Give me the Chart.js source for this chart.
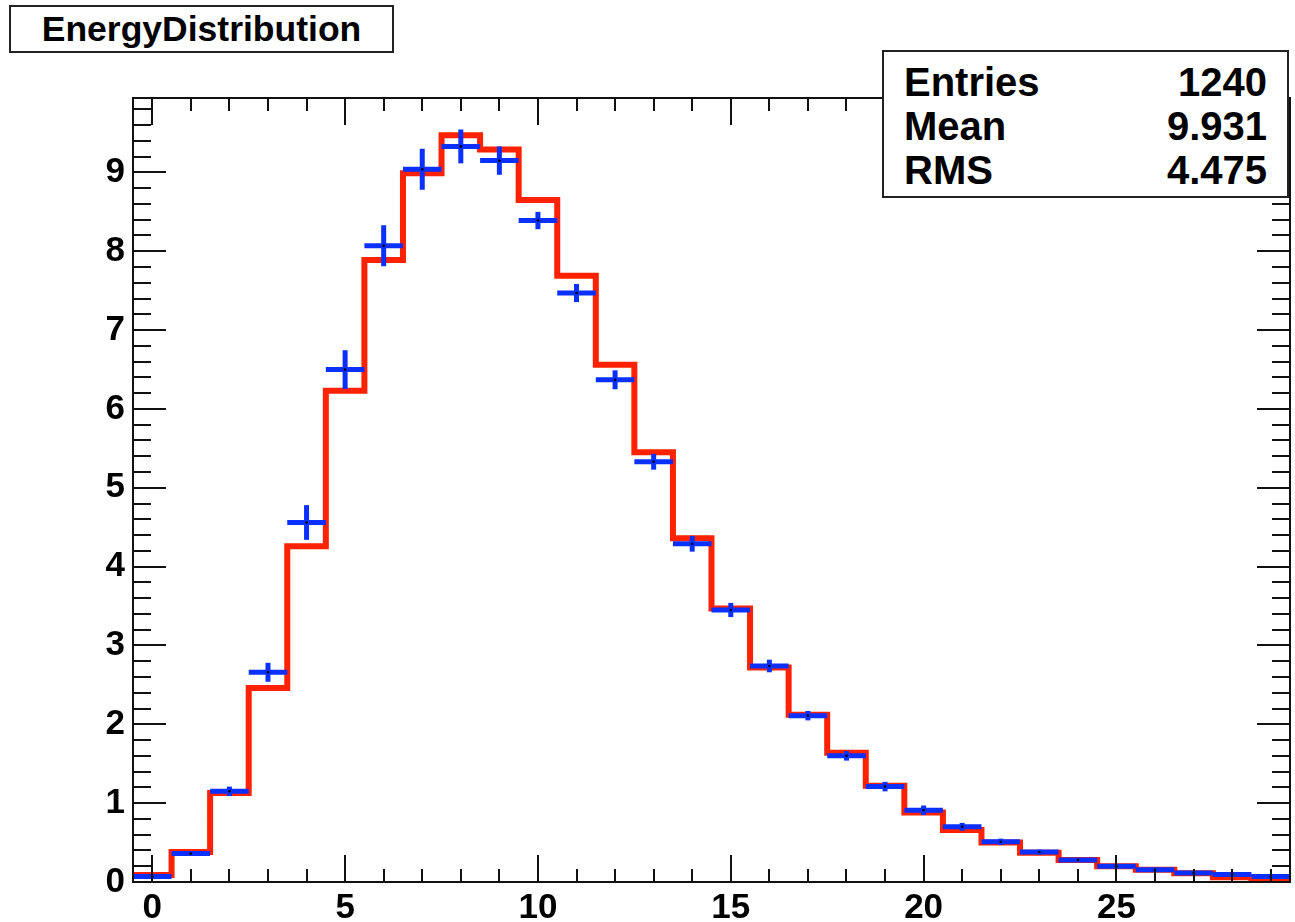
<!DOCTYPE html>
<html>
<head>
<meta charset="utf-8">
<script src="https://cdn.jsdelivr.net/npm/chart.js@4.4.1/dist/chart.umd.min.js"></script>
<style>
  html, body { margin: 0; padding: 0; background: #fff; }
  #wrap { position: relative; width: 1295px; height: 922px; overflow: hidden; }
  canvas { position: absolute; left: 0; top: 0; }
  .box { position: absolute; background: #fff; border: 2px solid #222; box-sizing: border-box;
         font-family: "Liberation Sans", Arial, Helvetica, sans-serif; font-weight: bold; color: #000; }
  #title { left: 9px; top: 5px; width: 385px; height: 48px; font-size: 35.5px; line-height: 44px; text-align: center; }
  #stats { left: 882px; top: 50px; width: 407px; height: 148px; font-size: 40px; }
  #stats .row { position: absolute; left: 20px; right: 20px; height: 44px; line-height: 44px; }
  #stats .row span.v { position: absolute; right: 0; }
</style>
</head>
<body>
<div id="wrap">
  <canvas id="c" width="1295" height="922"></canvas>
  <div class="box" id="title">EnergyDistribution</div>
  <div class="box" id="stats"></div>
</div>
<script>
// ---- data ----
const bins = [0,1,2,3,4,5,6,7,8,9,10,11,12,13,14,15,16,17,18,19,20,21,22,23,24,25,26,27,28,29];
const modelValues = [0.09,0.38,1.13,2.46,4.26,6.23,7.89,8.99,9.47,9.29,8.65,7.69,6.56,5.45,4.36,3.47,2.72,2.12,1.64,1.22,0.88,0.66,0.50,0.37,0.28,0.20,0.155,0.11,0.06,0.03];
const dataValues  = [0.07,0.36,1.15,2.66,4.56,6.50,8.07,9.04,9.33,9.15,8.39,7.47,6.37,5.33,4.29,3.45,2.74,2.11,1.60,1.21,0.91,0.70,0.51,0.38,0.28,0.20,0.156,0.114,0.095,0.07];
const dataErrors  = [0.02,0.03,0.06,0.12,0.22,0.245,0.26,0.26,0.215,0.18,0.11,0.115,0.12,0.10,0.10,0.09,0.08,0.06,0.06,0.06,0.06,0.05,0.04,0.03,0.02,0.02,0.02,0.02,0.02,0.02];
const xTickLabels = [0,5,10,15,20,25];
const yTickLabels = [0,1,2,3,4,5,6,7,8,9];
const statNames  = ["Entries","Mean","RMS"];
const statValues = ["1240","9.931","4.475"];
const xRange = [-0.5, 29.5];
const yRange = [0, 9.944];

// ---- stats box text ----
const stats = document.getElementById('stats');
statNames.forEach((n, i) => {
  const r = document.createElement('div');
  r.className = 'row';
  r.style.top = (8 + i * 44) + 'px';
  r.innerHTML = '<span>' + n + '</span><span class="v">' + statValues[i] + '</span>';
  stats.appendChild(r);
});

const halfW = 0.5;
const modelPts = bins.map((b, i) => ({ x: b - halfW, y: modelValues[i] }));
modelPts.push({ x: bins[bins.length - 1] + halfW, y: modelValues[modelValues.length - 1] });
const dataPts = bins.map((b, i) => ({ x: b, y: dataValues[i] }));

const RED = '#ff2200';
const BLUE = '#0a30ff';

const rootPlugin = {
  id: 'rootStyle',
  beforeDatasetDraw(chart, args) {
    if (args.index !== 1) return;
    const { ctx, chartArea: a, scales: { x, y } } = chart;
    ctx.save();
    ctx.beginPath(); ctx.rect(a.left, a.top, a.right - a.left, a.bottom - a.top); ctx.clip();
    ctx.strokeStyle = BLUE; ctx.lineWidth = 5; ctx.lineCap = 'butt';
    bins.forEach((b, i) => {
      const v = dataValues[i], e = dataErrors[i];
      const yc = y.getPixelForValue(v);
      ctx.beginPath();
      ctx.moveTo(x.getPixelForValue(b - halfW), yc);
      ctx.lineTo(x.getPixelForValue(b + halfW), yc);
      ctx.stroke();
      const xc = x.getPixelForValue(b);
      ctx.beginPath();
      ctx.moveTo(xc, y.getPixelForValue(v - e));
      ctx.lineTo(xc, y.getPixelForValue(v + e));
      ctx.stroke();
    });
    ctx.restore();
  },
  afterDatasetsDraw(chart) {
    const { ctx, chartArea: a, scales: { x, y } } = chart;
    ctx.save();
    ctx.strokeStyle = '#111'; ctx.lineWidth = 2;
    ctx.strokeRect(a.left, a.top, a.right - a.left, a.bottom - a.top);
    ctx.beginPath();
    for (let k = Math.ceil(xRange[0]); k <= Math.floor(xRange[1]); k++) {
      const px = Math.round(x.getPixelForValue(k));
      const len = (k % 5 === 0) ? 27 : 13;
      ctx.moveTo(px, a.bottom); ctx.lineTo(px, a.bottom - len);
      ctx.moveTo(px, a.top); ctx.lineTo(px, a.top + len);
    }
    for (let k = 0; k * 0.2 <= yRange[1]; k++) {
      const py = Math.round(y.getPixelForValue(k * 0.2));
      const len = (k % 5 === 0) ? 33 : 18;
      ctx.moveTo(a.left, py); ctx.lineTo(a.left + len, py);
      ctx.moveTo(a.right, py); ctx.lineTo(a.right - len, py);
    }
    ctx.stroke();
    ctx.restore();
  }
};

const tickFont = { family: '"Liberation Sans", Arial, Helvetica, sans-serif', weight: 'bold', size: 35 };

new Chart(document.getElementById('c'), {
  data: {
    datasets: [
      {
        type: 'line', data: modelPts, stepped: 'before',
        borderColor: RED, borderWidth: 6, pointRadius: 0, fill: false, order: 2
      },
      {
        type: 'scatter', data: dataPts, showLine: false,
        pointRadius: 1.3, pointBackgroundColor: '#000', pointBorderWidth: 0, order: 1
      }
    ]
  },
  options: {
    responsive: false, animation: false, devicePixelRatio: 1,
    layout: { padding: { top: 98, right: 5, left: 0, bottom: 0 } },
    plugins: { legend: { display: false }, tooltip: { enabled: false }, title: { display: false } },
    scales: {
      x: {
        type: 'linear', min: xRange[0], max: xRange[1],
        grid: { display: false, drawTicks: false }, border: { display: false },
        afterBuildTicks: s => { s.ticks = xTickLabels.map(v => ({ value: v })); },
        afterFit: s => { s.height = 40; },
        ticks: { font: tickFont, color: '#000', padding: 5, maxRotation: 0, autoSkip: false }
      },
      y: {
        type: 'linear', min: yRange[0], max: yRange[1],
        grid: { display: false, drawTicks: false }, border: { display: false },
        afterBuildTicks: s => { s.ticks = yTickLabels.map(v => ({ value: v })); },
        afterFit: s => { s.width = 133; },
        ticks: { font: tickFont, color: '#000', padding: 8, autoSkip: false }
      }
    }
  },
  plugins: [rootPlugin]
});
</script>
</body>
</html>
